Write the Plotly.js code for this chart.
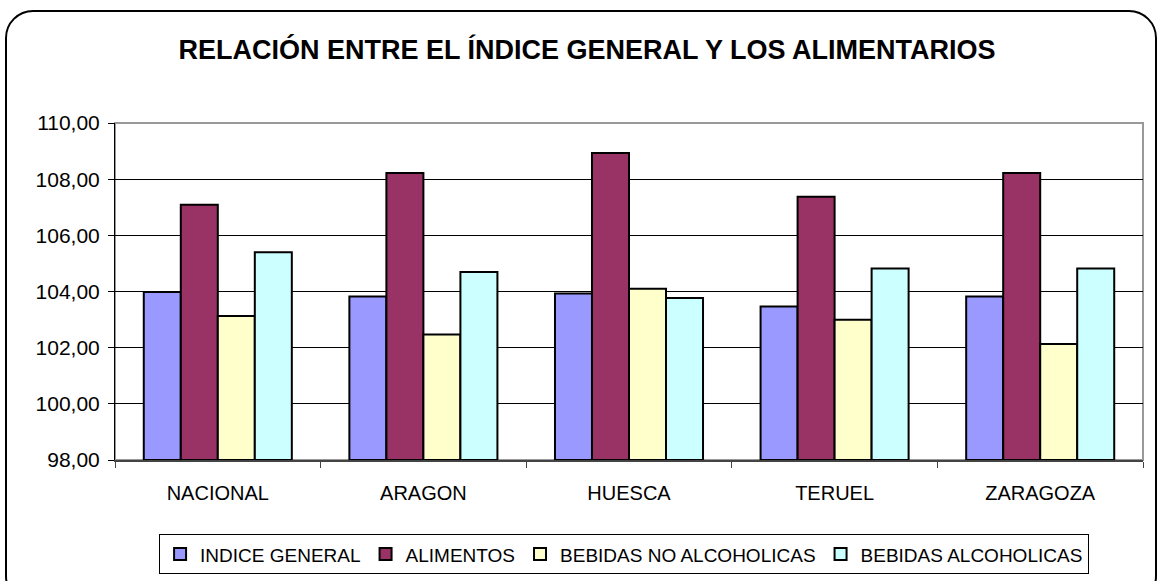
<!DOCTYPE html>
<html>
<head>
<meta charset="utf-8">
<script src="https://cdn.plot.ly/plotly-3.0.1.min.js"></script>
<style>
html,body{margin:0;padding:0;background:#fff;overflow:hidden;}
#wrap{position:relative;width:1160px;height:581px;}
#chart{position:absolute;left:0;top:0;width:1160px;height:581px;}
#frame{position:absolute;left:5px;top:10px;width:1148px;height:590px;border:2px solid #000;border-radius:28px;pointer-events:none;}
</style>
</head>
<body>
<div id="wrap"><div id="chart"></div><div id="frame"></div></div>
<script>
const categories = ["NACIONAL", "ARAGON", "HUESCA", "TERUEL", "ZARAGOZA"];
const seriesNames = ["INDICE GENERAL", "ALIMENTOS", "BEBIDAS NO ALCOHOLICAS", "BEBIDAS ALCOHOLICAS"];
const indiceGeneral = [103.98, 103.82, 103.93, 103.47, 103.82];
const alimentos = [107.09, 108.22, 108.93, 107.37, 108.22];
const bebidasNoAlcoholicas = [103.13, 102.47, 104.10, 102.99, 102.13];
const bebidasAlcoholicas = [105.40, 104.69, 103.77, 104.82, 104.82];
const yTicks = [98, 100, 102, 104, 106, 108, 110];

const colors = ["#9999FF", "#993366", "#FFFFCC", "#CCFFFF"];
const values = [indiceGeneral, alimentos, bebidasNoAlcoholicas, bebidasAlcoholicas];

const font = "Liberation Sans, Arial, sans-serif";

const traces = values.map((v, i) => ({
  type: "bar",
  name: seriesNames[i],
  x: categories,
  y: v.map(d => d - 98),
  base: 98,
  marker: {color: colors[i], line: {color: "#000", width: 2}},
  hoverinfo: "skip"
}));

const layout = {
  width: 1160, height: 581,
  margin: {l: 115, r: 17, t: 123, b: 121},
  paper_bgcolor: "#fff", plot_bgcolor: "#fff",
  separators: ",.",
  font: {family: font, color: "#000", size: 18},
  title: {text: "<b>RELACIÓN ENTRE EL ÍNDICE GENERAL Y LOS ALIMENTARIOS</b>",
          font: {family: font, size: 27, color: "#000"},
          x: 0.506, xanchor: "center", y: 0.915, yanchor: "middle", automargin: false},
  barmode: "group",
  bargap: 0.28,
  bargroupgap: 0,
  showlegend: true,
  legend: {orientation: "h", xref: "container", x: 0.538, xanchor: "center",
           yref: "container", y: 0.046, yanchor: "middle",
           bordercolor: "#000", borderwidth: 1, bgcolor: "#fff",
           font: {family: font, size: 19, color: "#000"},
           itemwidth: 30, tracegroupgap: 0, traceorder: "normal"},
  xaxis: {type: "category", showgrid: false, showline: true, linecolor: "#444", linewidth: 2,
          ticks: "outside", tickson: "boundaries", ticklen: 6, tickcolor: "#444",
          ticklabelstandoff: 14, automargin: false,
          tickfont: {family: font, size: 20, color: "#000"}, fixedrange: true},
  yaxis: {range: [98, 110], tickvals: yTicks, tickformat: ".2f", showgrid: true,
          gridcolor: "#000", gridwidth: 1, showline: true, linecolor: "#000", linewidth: 1,
          ticks: "outside", ticklen: 6, tickcolor: "#000", zeroline: false,
          ticklabelstandoff: 4, automargin: false,
          tickfont: {family: font, size: 21, color: "#000"}, fixedrange: true},
  shapes: [{type: "rect", xref: "paper", yref: "paper", x0: 0, x1: 1, y0: 0, y1: 1,
            line: {color: "#999", width: 2}, layer: "below"}]
};

Plotly.newPlot("chart", traces, layout, {displayModeBar: false, staticPlot: true});
</script>
</body>
</html>
